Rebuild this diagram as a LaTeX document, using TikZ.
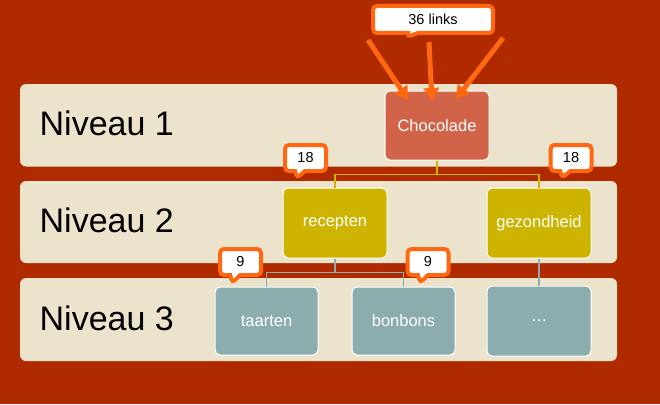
\documentclass[tikz,border=0pt]{standalone}
\usepackage{fontspec}
\setmainfont{Liberation Sans}
\usetikzlibrary{shapes.callouts,arrows.meta}
\definecolor{bg}{RGB}{176,42,0}
\definecolor{bandc}{RGB}{235,227,203}
\definecolor{chocc}{RGB}{209,99,73}
\definecolor{yelc}{RGB}{204,180,0}
\definecolor{tealc}{RGB}{140,173,174}
\definecolor{orc}{RGB}{255,104,16}
\begin{document}
\begin{tikzpicture}[x=1pt,y=-1pt,
  bandbox/.style={fill=bandc,rounded corners=6pt},
  niveau/.style={anchor=base west,inner sep=0pt,font=\fontsize{34}{37}\selectfont,text=black},
  boxbase/.style={draw=white,line width=1pt,rounded corners=5pt,minimum width=104pt,minimum height=70pt,text=white,font=\fontsize{16.5}{19}\selectfont,inner sep=0pt},
  chocbox/.style={boxbase,fill=chocc},
  yelbox/.style={boxbase,fill=yelc},
  tealbox/.style={boxbase,fill=tealc},
  callbox/.style={rectangle callout,draw=orc,line width=4pt,fill=white,rounded corners=4pt,callout pointer width=10pt,minimum width=41pt,minimum height=26pt,inner sep=0pt,font=\fontsize{14.5}{16}\selectfont,text=black},
  bigarrow/.style={draw=orc,line width=5pt,-{Triangle[length=13pt,width=15pt]}},
  yline/.style={draw=yelc,line width=1.3pt},
  tline/.style={draw=tealc,line width=1.3pt}]
\useasboundingbox[fill=bg] (0,0) rectangle (660,404);
% bands
\fill[bandbox] (20,84) rectangle (617,166.5);
\fill[bandbox] (20,181) rectangle (617,263);
\fill[bandbox] (20,278) rectangle (617,361);
\node[niveau] (n1) at (39.5,135.7) {Niveau 1};
\node[niveau] (n2) at (39.5,232.7) {Niveau 2};
\node[niveau] (n3) at (39.5,330) {Niveau 3};
% boxes
\node[chocbox,minimum height=69pt] (choc) at (437,125.5) {Chocolade};
\node[yelbox] (rec) at (335,223) {recepten};
\node[yelbox] (gez) at (539,223) {gezondheid};
\node[tealbox,minimum width=103pt,minimum height=68pt] (taa) at (266.5,321) {taarten};
\node[tealbox,minimum width=103pt,minimum height=68pt] (bon) at (403.5,321) {bonbons};
\node[tealbox] (dots) at (539,321) {\dots};
% connectors
\draw[yline] (choc.south) -- ++(0,14) coordinate (yb) -| (rec.north);
\draw[yline] (yb) -| (gez.north);
\draw[tline] (rec.south) -- ++(0,14) coordinate (tb) -| (taa.north);
\draw[tline] (tb) -| (bon.north);
\draw[tline] (gez.south) -- (dots.north);
% callouts
\node[callbox,minimum width=120pt,minimum height=27pt,callout absolute pointer={(407,37)}] (c36) at (433,19.5) {36 links};
\node[callbox,callout absolute pointer={(297,178)}] (c18a) at (305.5,158) {18};
\node[callbox,callout absolute pointer={(562,178)}] (c18b) at (571,158) {18};
\node[callbox,callout absolute pointer={(232,283)}] (c9a) at (240.5,262) {9};
\node[callbox,callout absolute pointer={(420,283)}] (c9b) at (428,262) {9};
% arrows
\coordinate (a1) at (368,40);
\coordinate (a2) at (429,42);
\coordinate (a3) at (503,38);
\coordinate (t1) at (408,100);
\coordinate (t2) at (432,101);
\coordinate (t3) at (456,99);
\draw[bigarrow] (a1) -- (t1);
\draw[bigarrow] (a2) -- (t2);
\draw[bigarrow] (a3) -- (t3);
\end{tikzpicture}
\end{document}
